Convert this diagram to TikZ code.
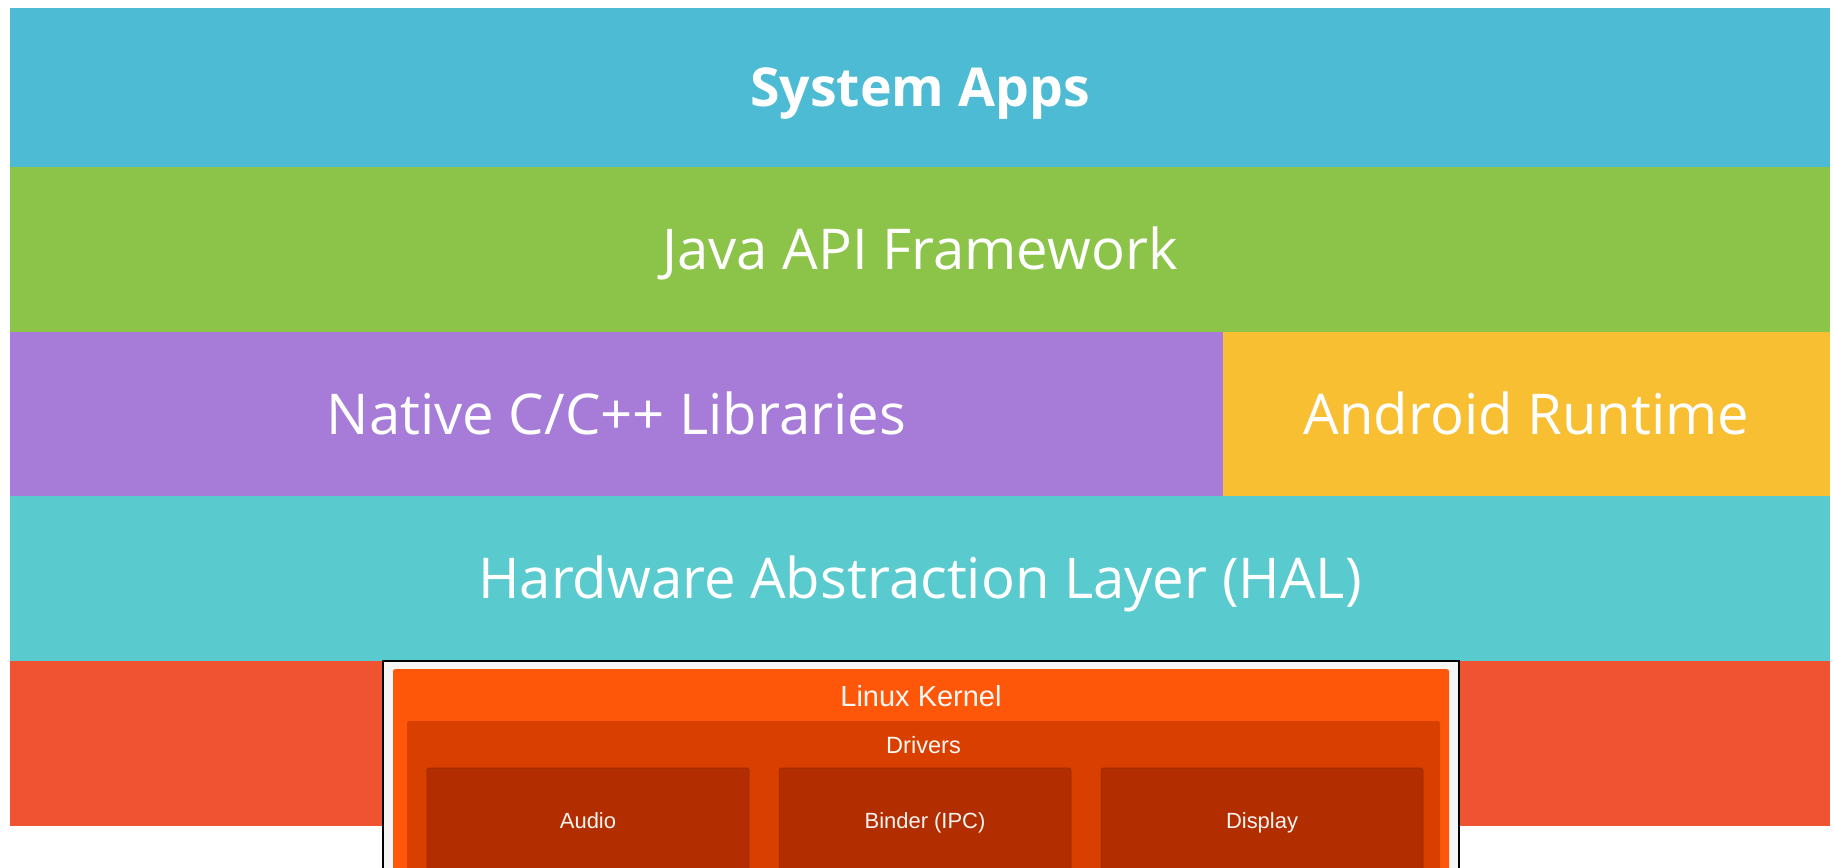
\documentclass[tikz,border=0pt]{standalone}
\usepackage{fontspec}
\setmainfont{Open Sans}
\newfontfamily\kernfont{Liberation Sans}
\usetikzlibrary{positioning}

\definecolor{appsblue}{HTML}{4DBBD3}
\definecolor{apigreen}{HTML}{8CC44A}
\definecolor{libpurple}{HTML}{A67CD8}
\definecolor{rtyellow}{HTML}{F8BF33}
\definecolor{halteal}{HTML}{59CACD}
\definecolor{kernred}{HTML}{EF5332}
\definecolor{framegray}{HTML}{F5F5F5}
\definecolor{kernorange}{HTML}{FF570A}
\definecolor{drvorange}{HTML}{D94000}
\definecolor{drvdark}{HTML}{B22E00}

\begin{document}
\begin{tikzpicture}[
    x=0.2mm, y=-0.2mm,
    band/.style={fill=#1, text=white, inner sep=0pt, outer sep=0pt, minimum width=364mm,
        minimum height=33mm, text height=23pt, text depth=0pt, font=\fontsize{32}{38}\selectfont},
    panel/.style={fill=#1, inner sep=0pt, outer sep=0pt, anchor=north west},
    drv/.style={fill=drvdark, draw=drvdark!85!black, line width=0.3pt, rounded corners=0.4mm,
        inner sep=0pt, outer sep=0pt, minimum height=21.2mm, text=white!94!drvdark,
        text height=9pt, text depth=0pt, font=\kernfont\fontsize{12.5}{15}\selectfont},
    kerntext/.style={text=white!96!kernorange, inner sep=0pt, text depth=0pt}
]

\clip (0,0) rectangle (1833,867);

\node[band=appsblue, anchor=north west, minimum height=31.8mm, text height=22pt,
    font=\fontsize{30.5}{36}\selectfont\bfseries] (apps) at (10,8) {System Apps};
\node[band=apigreen, below=0pt of apps.south west, anchor=north west] (api) {Java API Framework};
\node[band=libpurple, below=0pt of api.south west, anchor=north west, minimum width=242.6mm,
    minimum height=32.8mm] (native) {Native C/C++ Libraries};
\node[band=rtyellow, right=0pt of native, minimum width=121.4mm, minimum height=32.8mm]
    (runtime) {Android Runtime};
\node[band=halteal, below=0pt of native.south west, anchor=north west] (hal)
    {Hardware Abstraction Layer (HAL)};
\node[band=kernred, below=0pt of hal.south west, anchor=north west] (kernband) {};

\node[panel=framegray, draw=black, line width=0.8pt, minimum width=215.2mm,
    minimum height=60mm] (frame) at (383,661) {};
\node[panel=kernorange, rounded corners=0.5mm, minimum width=211.2mm,
    minimum height=60mm] (kern) at (393,669) {};
\node[panel=drvorange, rounded corners=0.5mm, minimum width=206.6mm,
    minimum height=60mm] (drivers) at (407,721) {};

\node[kerntext, text height=11.8pt, font=\kernfont\fontsize{16.5}{20}\selectfont]
    (kerntitle) at ([yshift=-5.4mm]kern.north) {Linux Kernel};
\node[kerntext, text height=9.6pt, font=\kernfont\fontsize{13.4}{16}\selectfont]
    (drvtitle) at ([yshift=-4.8mm]drivers.north) {Drivers};

\node[drv, anchor=north west, minimum width=64.4mm] (audio) at (427,768) {Audio};
\node[drv, right=6mm of audio, minimum width=58.4mm] (binder) {Binder (IPC)};
\node[drv, right=6mm of binder, minimum width=64.4mm] (display) {Display};

\end{tikzpicture}
\end{document}
